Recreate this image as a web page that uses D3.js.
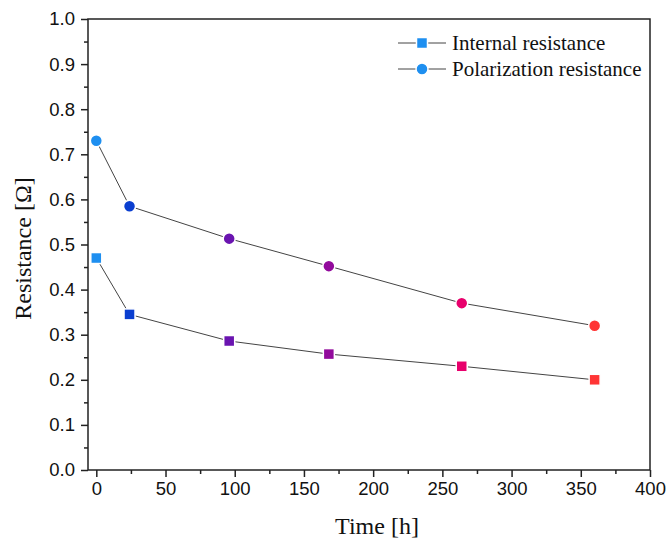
<!DOCTYPE html>
<html><head><meta charset="utf-8">
<script src="https://cdn.jsdelivr.net/npm/d3@7"></script>
<style>body{margin:0;background:#fff}svg{display:block}</style>
</head><body>
<svg id="c" width="667" height="538"></svg>
<script>
const times = [0, 24, 96, 168, 264, 360];
const internalR = [0.47, 0.345, 0.286, 0.257, 0.23, 0.20];
const polarR = [0.73, 0.585, 0.513, 0.452, 0.37, 0.32];
const pointColors = ["#1e8ff0", "#0a3ed0", "#6a14b0", "#920a9c", "#e8006c", "#ff3535"];
const xTicks = [0, 50, 100, 150, 200, 250, 300, 350, 400];
const yTicks = [0, 0.1, 0.2, 0.3, 0.4, 0.5, 0.6, 0.7, 0.8, 0.9, 1.0];
const seriesNames = ["Internal resistance", "Polarization resistance"];

const svg = d3.select("#c");
const L = 88, R = 650, T = 19, B = 470;
const x = d3.scaleLinear().domain([-6, 400]).range([L, R]);
const y = d3.scaleLinear().domain([0, 1]).range([B, T]);

svg.append("rect").attr("x", L).attr("y", T).attr("width", R - L).attr("height", B - T)
  .attr("fill", "none").attr("stroke", "#222").attr("stroke-width", 1.5);

const tickFont = "'Liberation Sans', Arial, sans-serif";
const serif = "'Liberation Serif', 'Times New Roman', serif";

const xAx = svg.append("g").attr("transform", `translate(0,${B})`)
  .call(d3.axisBottom(x).tickValues(xTicks).tickFormat(d3.format("d")).tickSize(7).tickPadding(5));
const xMinor = svg.append("g").attr("transform", `translate(0,${B})`)
  .call(d3.axisBottom(x).tickValues(d3.range(25, 400, 50)).tickSize(4).tickFormat(""));
const yAx = svg.append("g").attr("transform", `translate(${L},0)`)
  .call(d3.axisLeft(y).tickValues(yTicks).tickFormat(d3.format(".1f")).tickSize(7).tickPadding(6));
const yMinor = svg.append("g").attr("transform", `translate(${L},0)`)
  .call(d3.axisLeft(y).tickValues(d3.range(0.05, 1, 0.1)).tickSize(4).tickFormat(""));
[xAx, xMinor, yAx, yMinor].forEach(g => {
  g.select(".domain").remove();
  g.selectAll("line").attr("stroke", "#222").attr("stroke-width", 1.5);
  g.selectAll("text").attr("font-family", tickFont).attr("font-size", 18.5).attr("fill", "#111");
});

svg.append("text").attr("x", 377).attr("y", 534).attr("text-anchor", "middle")
  .attr("font-family", serif).attr("font-size", 24).attr("fill", "#111").text("Time [h]");
svg.append("text").attr("transform", `translate(31,${(T + B) / 2 + 4}) rotate(-90)`)
  .attr("text-anchor", "middle").attr("font-family", serif).attr("font-size", 24).attr("fill", "#111")
  .text("Resistance [Ω]");

const line = d3.line().x(d => x(d[0])).y(d => y(d[1]));
const series = [internalR, polarR];
series.forEach((vals, si) => {
  const pts = times.map((t, i) => [t, vals[i]]);
  svg.append("path").attr("d", line(pts)).attr("fill", "none")
    .attr("stroke", "#444").attr("stroke-width", 1);
  const g = svg.append("g");
  pts.forEach((p, i) => {
    if (si === 0) {
      g.append("rect").attr("x", x(p[0]) - 5.5).attr("y", y(p[1]) - 5.5)
        .attr("width", 11).attr("height", 11).attr("fill", pointColors[i])
        .attr("stroke", "#fff").attr("stroke-width", 1.5);
    } else {
      g.append("circle").attr("cx", x(p[0])).attr("cy", y(p[1])).attr("r", 6)
        .attr("fill", pointColors[i]).attr("stroke", "#fff").attr("stroke-width", 1.5);
    }
  });
});

const lg = svg.append("g");
seriesNames.forEach((name, i) => {
  const ly = 43 + i * 26;
  lg.append("line").attr("x1", 398).attr("x2", 446).attr("y1", ly).attr("y2", ly)
    .attr("stroke", "#444").attr("stroke-width", 1);
  if (i === 0) {
    lg.append("rect").attr("x", 422 - 5.5).attr("y", ly - 5.5).attr("width", 11).attr("height", 11)
      .attr("fill", pointColors[0]).attr("stroke", "#fff").attr("stroke-width", 1.5);
  } else {
    lg.append("circle").attr("cx", 422).attr("cy", ly).attr("r", 6)
      .attr("fill", pointColors[0]).attr("stroke", "#fff").attr("stroke-width", 1.5);
  }
  lg.append("text").attr("x", 452).attr("y", ly + 7).attr("font-family", serif)
    .attr("font-size", 21).attr("fill", "#111").text(name);
});
</script>
</body></html>
